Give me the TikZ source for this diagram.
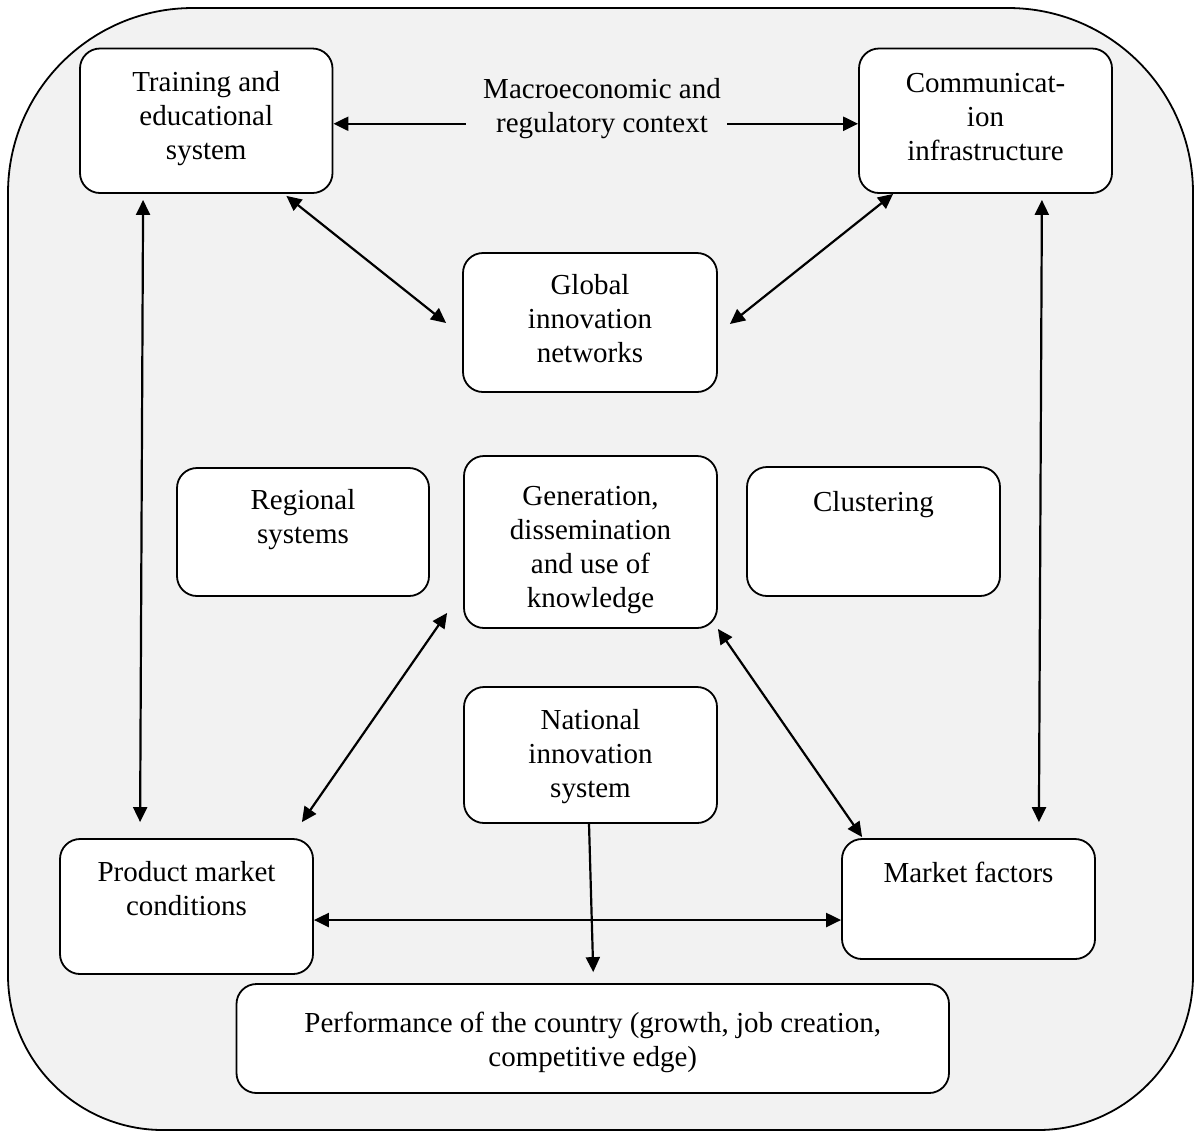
\documentclass[tikz,border=0pt]{standalone}
\usepackage{fontspec}
\setmainfont{Liberation Serif}
\usetikzlibrary{arrows.meta,calc}

\definecolor{panel}{HTML}{F2F2F2}

\tikzset{
  box/.style={draw, fill=white, rounded corners=10pt, line width=0.9pt,
              inner sep=0pt, bw=253},
  bw/.style={minimum width=#1*0.5pt},
  bh/.style={minimum height=#1*0.5pt},
  lbl/.style={align=center, anchor=base, inner sep=0pt,
              font=\fontsize{14.5pt}{16.9pt}\selectfont},
  link/.style={line width=1.1pt, {Triangle[length=7.5pt,width=7pt]}-{Triangle[length=7.5pt,width=7pt]}},
  onelink/.style={line width=1.1pt, -{Triangle[length=7.5pt,width=7pt]}},
  outer/.style={draw, fill=panel, line width=0.9pt}
}

\begin{document}
\begin{tikzpicture}[x=0.5pt, y=-0.5pt]
\useasboundingbox (0,0) rectangle (1197,1131);

% enclosing panel: larger rounding on top, smaller at the bottom
\path[outer] (8,193)
  arc[start angle=180, end angle=90, radius=92.5pt] -- (1008,8)
  arc[start angle=90, end angle=0, radius=92.5pt] -- (1193,975)
  arc[start angle=0, end angle=-90, radius=77.5pt] -- (163,1130)
  arc[start angle=270, end angle=180, radius=77.5pt] -- cycle;

% boxes
\node[box, bw=252.5, bh=144.5] (train) at (206.25,120.75) {};
\node[box, bh=144.5] (comm) at (985.5,120.75) {};
\node[box, bw=254, bh=139] (glob) at (590,322.5) {};
\node[box, bw=252, bh=128] (regio) at (303,532) {};
\node[box, bh=172] (gen) at (590.5,542) {};
\node[box, bh=129] (clus) at (873.5,531.5) {};
\node[box, bh=136] (nat) at (590.5,755) {};
\node[box, bh=135] (prod) at (186.5,906.5) {};
\node[box, bh=120] (mkt) at (968.5,899) {};
\node[box, bw=712.5, bh=109] (perf) at (592.75,1038.5) {};

% texts (placed on the baseline of their last line)
\node[lbl] (train-t) at (206.25,159.5) {Training and\\educational\\system};
\node[lbl] (comm-t) at (985.5,160.5) {Communicat-\\ion\\infrastructure};
\node[lbl] (macro) at (602,132.5) {Macroeconomic and\\regulatory context};
\node[lbl] (glob-t) at (590,362.5) {Global\\innovation\\networks};
\node[lbl] (regio-t) at (303,543.5) {Regional\\systems};
\node[lbl] (gen-t) at (590.5,607) {Generation,\\dissemination\\and use of\\knowledge};
\node[lbl] (clus-t) at (873.5,511) {Clustering};
\node[lbl] (nat-t) at (590.5,797.5) {National\\innovation\\system};
\node[lbl] (prod-t) at (186.5,915.5) {Product market\\conditions};
\node[lbl] (mkt-t) at (968.5,882) {Market factors};
\node[lbl] (perf-t) at (592.75,1066.5) {Performance of the country (growth, job creation,\\competitive edge)};

% connectors
\draw[onelink] ($(macro.west |- train.east)+(-17,3)$) -- ($(train.east)+(0,3)$);
\draw[onelink] ($(macro.east |- comm.west)+(6,3)$) -- ($(comm.west)+(0,3)$);
\draw[link] ($(train.south east)+(-47,2)$) -- ($(glob.west)+(-16,0.5)$);
\draw[link] ($(comm.south west)+(35,0)$) -- ($(glob.east)+(12,1.5)$);
\draw[link] ($(train.south west)+(64,6)$) -- ($(prod.north west)+(81,-16)$);
\draw[link] ($(comm.south east)+(-71,6)$) -- ($(mkt.north east)+(-57,-16)$);
\draw[link] ($(gen.south west)+(-16,-16)$) -- ($(prod.north east)+(-12,-16)$);
\draw[link] (gen.south east) -- ($(mkt.north west)+(21,-1)$);
\draw[link] ($(prod.east)+(0,13.5)$) -- ($(mkt.west |- prod.east)+(0,13.5)$);
\draw[onelink] ($(nat.south)+(-1.5,0)$) -- ($(perf.north)+(0.5,-11)$);
\end{tikzpicture}
\end{document}
